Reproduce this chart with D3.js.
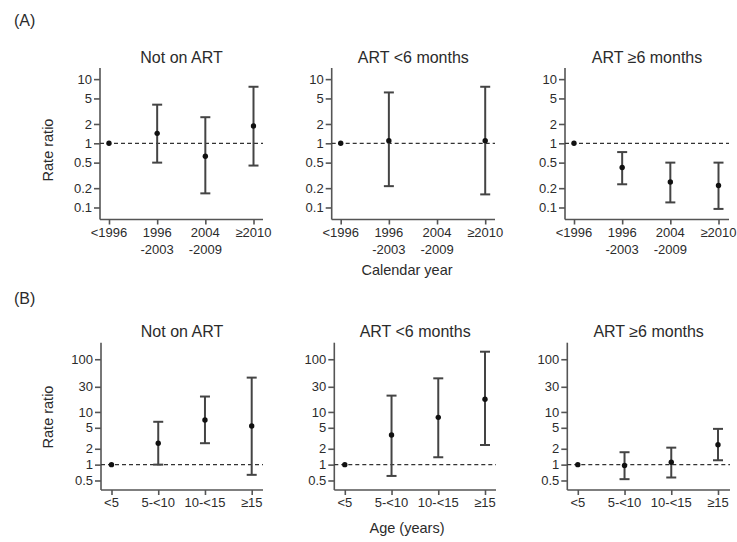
<!DOCTYPE html>
<html>
<head>
<meta charset="utf-8">
<script src="https://cdn.jsdelivr.net/npm/d3@7"></script>
<style>
  body { margin: 0; background: #fff; }
  svg text { font-family: "Liberation Sans", Arial, sans-serif; fill: #2b2b2b; }
</style>
</head>
<body>
<div id="vis"></div>
<script>
// categories and labels
var groups = ['Not on ART', 'ART <6 months', 'ART \u22656 months'];
var yearCats = ['<1996', '1996\n-2003', '2004\n-2009', '\u22652010'];
var ageCats = ['<5', '5-<10', '10-<15', '\u226515'];
var yearTicks = [0.1, 0.2, 0.5, 1, 2, 5, 10];
var ageTicks = [0.5, 1, 2, 5, 10, 30, 100];

// (A) rate ratios by calendar year, one row per group
var yearEst = [[1, 1.43, 0.63, 1.86], [1, 1.1, null, 1.1], [1, 0.42, 0.25, 0.22]];
var yearLo = [[null, 0.5, 0.166, 0.45], [null, 0.215, null, 0.16], [null, 0.23, 0.12, 0.095]];
var yearHi = [[null, 4.0, 2.55, 7.6], [null, 6.2, null, 7.6], [null, 0.73, 0.5, 0.5]];

// (B) rate ratios by age
var ageEst = [[1, 2.55, 7.05, 5.4], [1, 3.66, 7.9, 17.4], [1, 0.96, 1.11, 2.39]];
var ageLo = [[null, 1.0, 2.55, 0.64], [null, 0.61, 1.38, 2.36], [null, 0.53, 0.57, 1.21]];
var ageHi = [[null, 6.5, 19.6, 44.8], [null, 20.4, 43.4, 139], [null, 1.72, 2.1, 4.77]];

var W = 737, H = 542;
var svg = d3.select('#vis').append('svg').attr('width', W).attr('height', H);

var rows = [
  { tag: '(A)', tagY: 20, top: 68, bottom: 219.5, dom: [0.065, 14.9], ticks: yearTicks,
    cats: yearCats, est: yearEst, lo: yearLo, hi: yearHi,
    lefts: [100, 331.7, 565], rights: [263, 495, 729], pad: [9, 153.5],
    titleY: 57, xlab: 'Calendar year', xlabY: 270, ylabY: 150 },
  { tag: '(B)', tagY: 298, top: 342.7, bottom: 490, dom: [0.33, 206], ticks: ageTicks,
    cats: ageCats, est: ageEst, lo: ageLo, hi: ageHi,
    lefts: [101, 334.3, 567.3], rights: [263, 496, 730], pad: [10.5, 150.7],
    titleY: 331, xlab: 'Age (years)', xlabY: 528, ylabY: 417 }
];

var fmt = function(d) { return d < 1 ? String(d) : d3.format('d')(d); };

rows.forEach(function(r) {
  svg.append('text')
    .attr('x', 14).attr('y', r.tagY).attr('dy', '0.35em')
    .style('font-size', '16px').text(r.tag);

  var y = d3.scaleLog().domain(r.dom).range([r.bottom, r.top]);

  groups.forEach(function(gname, gi) {
    var left = r.lefts[gi], right = r.rights[gi];
    var x = d3.scalePoint().domain(r.cats).range([left + r.pad[0], left + r.pad[1]]);
    var g = svg.append('g');

    // title
    g.append('text')
      .attr('x', (left + right) / 2).attr('y', r.titleY).attr('dy', '0.35em')
      .attr('text-anchor', 'middle').style('font-size', '16px').text(gname);

    // y axis
    var yAxis = g.append('g').attr('transform', 'translate(' + left + ',0)')
      .call(d3.axisLeft(y).tickValues(r.ticks).tickFormat(fmt).tickSize(6).tickSizeOuter(0));
    yAxis.select('.domain').attr('d', 'M0,' + r.top + 'V' + r.bottom);

    // x axis
    var xAxis = g.append('g').attr('transform', 'translate(0,' + r.bottom + ')')
      .call(d3.axisBottom(x).tickSize(5).tickSizeOuter(0).tickFormat(''));
    xAxis.select('.domain').attr('d', 'M' + left + ',0H' + right);

    [yAxis, xAxis].forEach(function(a) {
      a.selectAll('.domain, line').attr('stroke', '#555').attr('stroke-width', 1.6);
      a.selectAll('text').style('font-size', '13px').attr('fill', '#2b2b2b');
    });
    yAxis.selectAll('text').attr('x', -8);

    // multi-line category labels
    r.cats.forEach(function(c) {
      var t = g.append('text')
        .attr('x', x(c)).attr('y', r.bottom + 17)
        .attr('text-anchor', 'middle').style('font-size', '13px');
      c.split('\n').forEach(function(line, li) {
        t.append('tspan').attr('x', x(c)).attr('dy', li === 0 ? 0 : 17).text(line);
      });
    });

    // reference line at 1
    g.append('line')
      .attr('x1', left).attr('x2', right)
      .attr('y1', y(1)).attr('y2', y(1))
      .attr('stroke', '#333').attr('stroke-width', 1.2)
      .attr('stroke-dasharray', '4,3');

    // error bars
    var pts = r.cats.map(function(c, i) {
      return { cat: c, est: r.est[gi][i], lo: r.lo[gi][i], hi: r.hi[gi][i] };
    });
    var bars = pts.filter(function(d) { return d.lo != null; });
    var eb = g.append('g').attr('stroke', '#444').attr('stroke-width', 2);
    eb.selectAll('line.v').data(bars).enter().append('line')
      .attr('x1', function(d) { return x(d.cat); })
      .attr('x2', function(d) { return x(d.cat); })
      .attr('y1', function(d) { return y(d.lo); })
      .attr('y2', function(d) { return y(d.hi); });
    ['lo', 'hi'].forEach(function(k) {
      eb.selectAll('line.c' + k).data(bars).enter().append('line')
        .attr('x1', function(d) { return x(d.cat) - 5; })
        .attr('x2', function(d) { return x(d.cat) + 5; })
        .attr('y1', function(d) { return y(d[k]); })
        .attr('y2', function(d) { return y(d[k]); });
    });

    g.selectAll('circle').data(pts.filter(function(d) { return d.est != null; }))
      .enter().append('circle')
      .attr('cx', function(d) { return x(d.cat); })
      .attr('cy', function(d) { return y(d.est); })
      .attr('r', 2.7).attr('fill', '#111');

    if (gi === 0) {
      g.append('text')
        .attr('transform', 'translate(48,' + r.ylabY + ') rotate(-90)')
        .attr('dy', '0.35em').attr('text-anchor', 'middle')
        .style('font-size', '14.5px').text('Rate ratio');
    }
    if (gi === 1) {
      g.append('text')
        .attr('x', 407).attr('y', r.xlabY).attr('dy', '0.35em')
        .attr('text-anchor', 'middle').style('font-size', '14.5px').text(r.xlab);
    }
  });
});
</script>
</body>
</html>
